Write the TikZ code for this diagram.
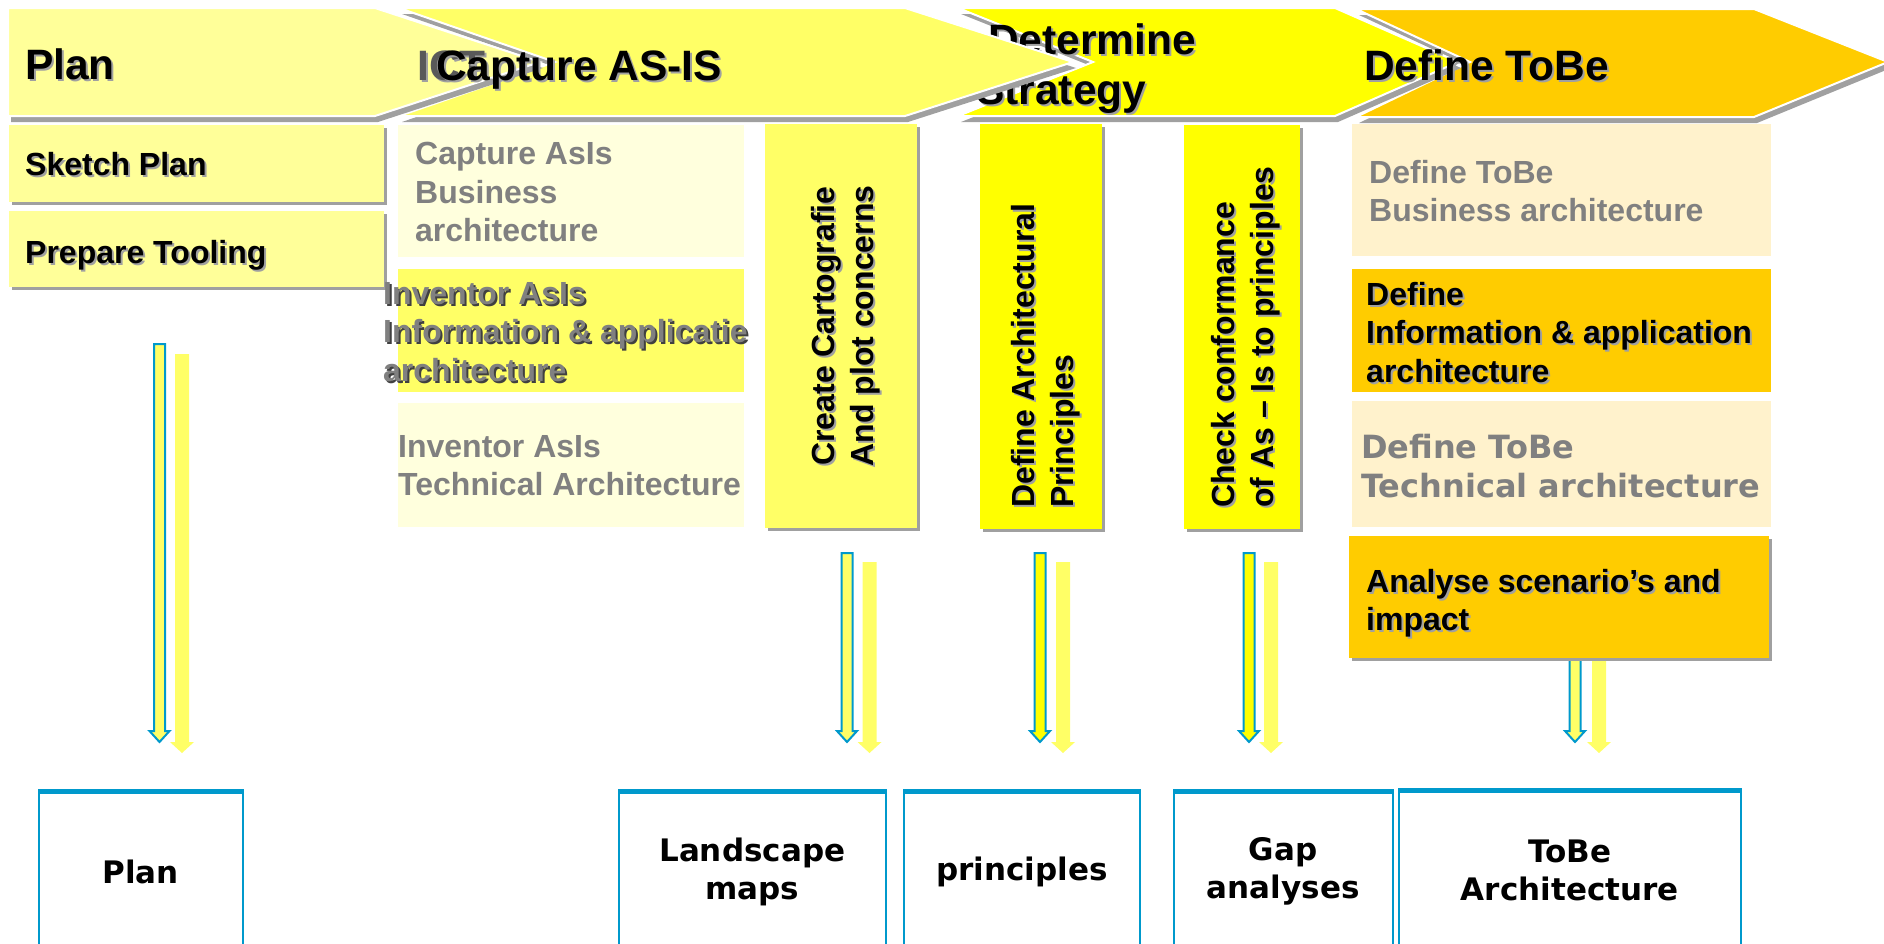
\documentclass[tikz,border=0pt]{standalone}
\usepackage{fontspec}
\setmainfont{Liberation Sans}
\newfontfamily\dejavu{DejaVu Sans}
\usetikzlibrary{shadows}
\definecolor{planyellow}{HTML}{FFFF99}
\definecolor{asisyellow}{HTML}{FFFF66}
\definecolor{paleyellow}{HTML}{FFFFDD}
\definecolor{strategyyellow}{HTML}{FFFF00}
\definecolor{tobeorange}{HTML}{FFCC00}
\definecolor{paleorange}{HTML}{FFF2CC}
\definecolor{shadowgrey}{HTML}{A0A0A0}
\definecolor{greytext}{HTML}{808080}
\definecolor{outblue}{HTML}{0099CC}
\newcommand{\shadowtext}[5][shadowgrey]{%
	\node[xshift=2pt, yshift=-2pt, #2, text=#1] (#3-sh) at #4 {#5};
	\node[#2] (#3) at #4 {#5};}
\newcommand{\blockarrow}[6]{%
	\path[#1] (#2-#5,#3) -- (#2+#5,#3) -- (#2+#5,#4-11) -- (#2+#6,#4-11) -- (#2,#4) -- (#2-#6,#4-11) -- (#2-#5,#4-11) -- cycle;}
\begin{document}
\begin{tikzpicture}[x=1pt, y=-1pt]
	\tikzstyle{chevron} = [draw=white, line width=2pt, line join=miter]
	\tikzstyle{chevshadow} = [fill=shadowgrey, shift={(3,6)}]
	\tikzstyle{headtext} = [inner sep=0, align=left, font=\fontsize{42.5}{50}\selectfont\bfseries]
	\tikzstyle{task} = [anchor=north west, inner sep=0]
	\tikzstyle{boxshadow} = [drop shadow={shadow xshift=3pt, shadow yshift=-3pt, fill=shadowgrey, opacity=1}]
	\tikzstyle{tasktext} = [anchor=north west, inner sep=0, align=left, font=\fontsize{32}{38.5}\selectfont\bfseries]
	\tikzstyle{coltext} = [inner sep=0, rotate=90, font=\fontsize{32}{39}\selectfont\bfseries]
	\tikzstyle{inarrow} = [draw=outblue, line width=2pt, line join=miter]
	\tikzstyle{sidearrow} = [fill=asisyellow]
	\tikzstyle{outbox} = [draw=outblue, line width=1.5pt, anchor=north west, inner sep=0, minimum height=160pt, align=center, font=\dejavu\fontsize{31}{38}\selectfont\bfseries]
	\useasboundingbox (0,0) rectangle (1884,943);
	\clip (0,0) rectangle (1884,943);
	\fill[chevshadow] (1356,9) -- (1754,9) -- (1888,62) -- (1754,117) -- (1356,117) -- (1470,62) -- cycle;
	\filldraw[chevron, fill=tobeorange] (1356,9) -- (1754,9) -- (1888,62) -- (1754,117) -- (1356,117) -- (1470,62) -- cycle;
	\fill[chevshadow] (958,8) -- (1335,8) -- (1458,62) -- (1335,116) -- (958,116) -- (1093,62) -- cycle;
	\filldraw[chevron, fill=strategyyellow] (958,8) -- (1335,8) -- (1458,62) -- (1335,116) -- (958,116) -- (1093,62) -- cycle;
	\shadowtext{headtext, anchor=north west}{strategyhead}{(976,23)}{\hspace*{12pt}Determine\\Strategy}
	\shadowtext{headtext, anchor=base west}{tobehead}{(1364,80)}{Define ToBe}
	\fill[chevshadow] (399,8) -- (905,8) -- (1073,62) -- (905,116) -- (399,116) -- (555,62) -- cycle;
	\filldraw[chevron, fill=asisyellow] (399,8) -- (905,8) -- (1073,62) -- (905,116) -- (399,116) -- (555,62) -- cycle;
	\fill[chevshadow] (8,8) -- (375,8) -- (540,62) -- (375,116) -- (8,116) -- cycle;
	\filldraw[chevron, fill=planyellow] (8,8) -- (375,8) -- (540,62) -- (375,116) -- (8,116) -- cycle;
	\shadowtext{headtext, anchor=base west}{planhead}{(25,79)}{Plan}
	\shadowtext{headtext, anchor=base west, text=black!65}{icthead}{(417,80)}{ICT}
	\shadowtext{headtext, anchor=base west}{asishead}{(436,80)}{Capture AS-IS}
	\blockarrow{sidearrow}{182}{354}{753}{7}{12}
	\blockarrow{inarrow, fill=asisyellow}{159.5}{344}{742}{5.5}{10}
	\blockarrow{sidearrow}{869.5}{562}{753}{7}{12}
	\blockarrow{inarrow, fill=asisyellow}{847}{553}{742}{5.5}{10}
	\blockarrow{sidearrow}{1063}{562}{753}{7}{12}
	\blockarrow{inarrow, fill=strategyyellow}{1040}{553}{742}{5.5}{10}
	\blockarrow{sidearrow}{1271}{562}{753}{7}{12}
	\blockarrow{inarrow, fill=strategyyellow}{1249}{553}{742}{5.5}{10}
	\blockarrow{sidearrow}{1599}{640}{753}{7}{12}
	\blockarrow{inarrow, fill=asisyellow}{1575}{640}{742}{5.5}{10}
	\node[task, boxshadow, fill=planyellow, minimum width=375pt, minimum height=77pt] (sketchbox) at (9,125) {};
	\node[task, boxshadow, fill=planyellow, minimum width=375pt, minimum height=76pt] (toolbox) at (9,211) {};
	\node[task, fill=paleyellow, minimum width=346pt, minimum height=132pt] (capbusbox) at (398,125) {};
	\node[task, fill=asisyellow, minimum width=346pt, minimum height=123pt] (invinfobox) at (398,269) {};
	\node[task, fill=paleyellow, minimum width=346pt, minimum height=124pt] (invtechbox) at (398,403) {};
	\node[task, boxshadow, fill=asisyellow, minimum width=152pt, minimum height=404pt] (cartobox) at (765,124) {};
	\node[task, boxshadow, fill=strategyyellow, minimum width=122pt, minimum height=405pt] (archbox) at (980,124) {};
	\node[task, boxshadow, fill=strategyyellow, minimum width=116pt, minimum height=404pt] (conformbox) at (1184,125) {};
	\node[task, fill=paleorange, minimum width=419pt, minimum height=132pt] (tobebusbox) at (1352,124) {};
	\node[task, fill=tobeorange, minimum width=419pt, minimum height=123pt] (definfobox) at (1352,269) {};
	\node[task, fill=paleorange, minimum width=419pt, minimum height=126pt] (tobetechbox) at (1352,401) {};
	\node[task, boxshadow, fill=tobeorange, minimum width=420pt, minimum height=122pt] (analysebox) at (1349,536) {};
	\shadowtext{tasktext}{sketchtxt}{(25,152)}{Sketch Plan}
	\shadowtext{tasktext}{tooltxt}{(25,240)}{Prepare Tooling}
	\node[tasktext, text=greytext] (capbustxt) at (415,142) {Capture AsIs\\Business\\architecture};
	\shadowtext[black!75]{tasktext, text=greytext}{invinfotxt}{(383,282)}{Inventor AsIs\\Information \& applicatie\\architecture};
	\node[tasktext, text=greytext] (invtechtxt) at (398,435) {Inventor AsIs\\Technical Architecture};
	\shadowtext{coltext, align=center}{cartotxt}{(846,326)}{Create Cartografie\\And plot concerns}
	\shadowtext{coltext, anchor=west, align=left}{archtxt}{(1046,508)}{Define Architectural\\Principles}
	\shadowtext{coltext, anchor=west, align=left}{conformtxt}{(1246,508)}{Check conformance\\of As – Is to principles}
	\node[tasktext, text=greytext] (tobebustxt) at (1369,160) {Define ToBe\\Business architecture};
	\shadowtext{tasktext}{definfotxt}{(1366,282)}{Define\\Information \& application\\architecture}
	\node[tasktext, text=greytext, font=\dejavu\fontsize{32}{39}\selectfont\bfseries] (tobetechtxt) at (1361,434) {Define ToBe\\Technical architecture};
	\shadowtext{tasktext}{analysetxt}{(1366,569)}{Analyse scenario’s and\\impact}
	\node[outbox, minimum width=204pt] (planout) at (38,791) {Plan};
	\node[outbox, minimum width=267pt] (mapsout) at (618,791) {Landscape\\maps};
	\node[outbox, minimum width=236pt] (principlesout) at (903,791) {principles};
	\node[outbox, minimum width=219pt] (gapout) at (1173,791) {Gap\\analyses};
	\node[outbox, minimum width=342pt] (tobeout) at (1398,790) {ToBe\\Architecture};
	\foreach \b in {planout, mapsout, principlesout, gapout, tobeout}
		\draw[outblue, line width=5pt] (\b.north west) -- (\b.north east);
\end{tikzpicture}
\end{document}
